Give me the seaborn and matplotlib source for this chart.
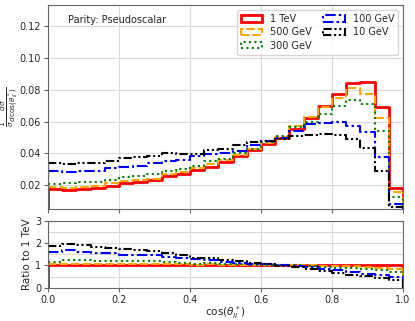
import matplotlib
matplotlib.use("Agg")
import matplotlib.pyplot as plt
from matplotlib.patches import Patch
from matplotlib.ticker import MultipleLocator
import numpy as np
import pandas as pd
import seaborn as sns

# bin edges of cos(theta*_ll), 25 bins
edges = np.linspace(0.0, 1.0, 26)
centers = 0.5 * (edges[:-1] + edges[1:])

tev1 = [0.0179, 0.0169, 0.0179, 0.0185, 0.0198, 0.0213, 0.0221, 0.0231, 0.0256, 0.0269,
        0.0296, 0.0313, 0.0346, 0.0381, 0.0423, 0.0460, 0.0500, 0.0554, 0.0625, 0.0700,
        0.0773, 0.0840, 0.0846, 0.0692, 0.0183]
gev500 = [0.0192, 0.0183, 0.0192, 0.0198, 0.0213, 0.0225, 0.0231, 0.0242, 0.0269, 0.0283,
          0.0308, 0.0335, 0.0356, 0.0392, 0.0427, 0.0467, 0.0505, 0.0573, 0.0630, 0.0692,
          0.0746, 0.0808, 0.0773, 0.0625, 0.0156]
gev300 = [0.0210, 0.0213, 0.0221, 0.0221, 0.0235, 0.0254, 0.0260, 0.0273, 0.0290, 0.0300,
          0.0321, 0.0354, 0.0363, 0.0400, 0.0425, 0.0470, 0.0510, 0.0567, 0.0600, 0.0646,
          0.0700, 0.0735, 0.0708, 0.0538, 0.0127]
gev100 = [0.0290, 0.0285, 0.0288, 0.0292, 0.0306, 0.0317, 0.0323, 0.0338, 0.0350, 0.0356,
          0.0383, 0.0394, 0.0406, 0.0417, 0.0454, 0.0480, 0.0500, 0.0538, 0.0585, 0.0590,
          0.0596, 0.0575, 0.0533, 0.0380, 0.0085]
gev10 = [0.0338, 0.0331, 0.0340, 0.0340, 0.0354, 0.0371, 0.0377, 0.0383, 0.0400, 0.0398,
         0.0398, 0.0421, 0.0429, 0.0450, 0.0470, 0.0480, 0.0490, 0.0508, 0.0515, 0.0523,
         0.0515, 0.0490, 0.0433, 0.0288, 0.0063]

labels = ["1 TeV", "500 GeV", "300 GeV", "100 GeV", "10 GeV"]
series = [tev1, gev500, gev300, gev100, gev10]
colors = ["red", "orange", "green", "blue", "black"]
styles = ["-", (0, (4, 1.5)), (0, (1, 1.6)), (0, (5, 1.5, 1.2, 1.5)), (0, (4, 1.3, 1, 1.3, 1, 1.3))]
widths = [2.0, 1.5, 1.5, 1.5, 1.5]

sns.set_style("whitegrid", {"axes.edgecolor": ".4", "grid.color": ".85",
                            "xtick.bottom": True, "ytick.left": True})
plt.rcParams["font.family"] = ["DejaVu Sans"]
plt.rcParams["mathtext.fontset"] = "dejavusans"

fig = plt.figure(figsize=(4.15, 3.21), dpi=100)
ax = fig.add_axes([0.1157, 0.348, 0.8554, 0.636])
rax = fig.add_axes([0.1157, 0.104, 0.8554, 0.2075], sharex=ax)


def step(axis, vals, color, ls, lw):
    vals = np.asarray(vals, dtype=float)
    df = pd.DataFrame({"x": centers, "w": vals})
    sns.histplot(data=df, x="x", weights="w", binwidth=0.04, binrange=(0, 1),
                 element="step", fill=False, color=color, ax=axis,
                 linestyle=ls, linewidth=lw)
    # close the outline down to the baseline at both ends
    axis.vlines([edges[0], edges[-1]], 0, [vals[0], vals[-1]], colors=color,
                linestyles=[ls], linewidth=lw)


for vals, c, ls, lw in zip(series, colors, styles, widths):
    step(ax, vals, c, ls, lw)
    ratio = np.array(vals) / np.array(tev1)
    step(rax, ratio, c, ls, lw)

ax.set_xlim(0, 1)
ax.set_ylim(0.005, 0.133)
ax.set_xlabel("")
ax.set_ylabel(r"$\frac{1}{\sigma}\frac{d\sigma}{d\cos(\theta^*_{ll})}$", fontsize=7.5)
ax.yaxis.set_label_coords(-0.078, 0.5)
ax.tick_params(axis="x", labelbottom=False, length=3, color=".4")
ax.tick_params(axis="y", labelsize=7, length=3, color=".4", pad=2)
ax.set_yticks([0.02, 0.04, 0.06, 0.08, 0.10, 0.12])
ax.text(0.055, 0.95, "Parity: Pseudoscalar", transform=ax.transAxes, fontsize=7, va="top")

handles = [Patch(facecolor="none", edgecolor=c, linestyle=ls, linewidth=lw, label=l)
           for l, c, ls, lw in zip(labels, colors, styles, widths)]
ax.legend(handles=handles, loc="upper right", ncol=2, fontsize=7, frameon=True,
          handlelength=2.2, handleheight=0.6, columnspacing=1.2, borderaxespad=0.5,
          labelspacing=0.35)

rax.set_ylim(0, 3)
rax.set_yticks([0, 1, 2, 3])
rax.yaxis.set_minor_locator(MultipleLocator(0.5))
rax.grid(True, which="minor", color=".85")
rax.tick_params(which="minor", length=0)
rax.tick_params(axis="both", labelsize=7, length=3, color=".4", pad=2)
rax.set_xticks([0.0, 0.2, 0.4, 0.6, 0.8, 1.0])
rax.set_xlim(0, 1)
rax.set_ylabel("Ratio to 1 TeV", fontsize=7.5, labelpad=2)
rax.set_xlabel(r"cos($\theta^*_{ll}$)", fontsize=7.5, labelpad=0)

fig.savefig("out.png", dpi=100)
